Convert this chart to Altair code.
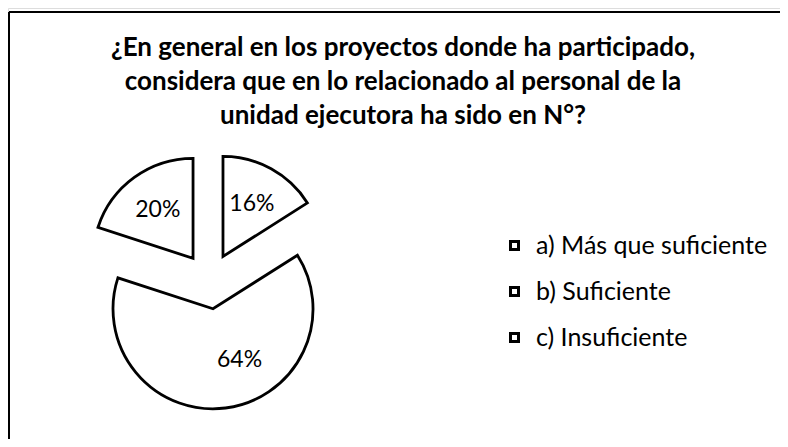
import math
import altair as alt
import pandas as pd

# ---- data ----
categories = ["a) Más que suficiente", "b) Suficiente", "c) Insuficiente"]
values = [16, 64, 20]
title_lines = [
    "¿En general en los proyectos donde ha participado,",
    "considera que en lo relacionado al personal de la",
    "unidad ejecutora ha sido en N°?",
]
caption = ["Gráfico N° 9"]

# ---- layout / style ----
W, H = 772, 431
CX, CY = 201.5, 273.0      # pie centre (chart px)
R = 100                    # pie radius
EXPLODE = 28               # slice explosion
LABEL_R = 60               # label distance from slice apex
FONT = "Lato"

pie_df = pd.DataFrame({"cat": categories, "value": values, "order": [0, 1, 2]})
title_df = pd.DataFrame({"line": title_lines, "i": list(range(len(title_lines)))})
cap_df = pd.DataFrame({"t": caption})

base = alt.Chart(pie_df).transform_window(
    cum="sum(value)", sort=[alt.SortField("order")]
).transform_joinaggregate(
    total="sum(value)"
).transform_calculate(
    t0="(datum.cum - datum.value) / datum.total * 2 * PI",
    t1="datum.cum / datum.total * 2 * PI",
).transform_calculate(
    mid="(datum.t0 + datum.t1) / 2"
).transform_calculate(
    px=f"{CX} + {EXPLODE} * sin(datum.mid)",
    py=f"{CY} - {EXPLODE} * cos(datum.mid)",
)

arcs = base.mark_arc(
    radius=R, stroke="black", strokeWidth=2.8, strokeJoin="miter"
).encode(
    theta=alt.Theta("t0:Q", scale=None),
    theta2="t1:Q",
    x=alt.X("px:Q", scale=None, axis=None),
    y=alt.Y("py:Q", scale=None, axis=None),
    fill=alt.Fill(
        "cat:N",
        scale=alt.Scale(domain=categories, range=["white", "white", "white"]),
        legend=alt.Legend(
            title=None,
            orient="none",
            legendX=494,
            legendY=225,
            symbolType="square",
            symbolSize=64,
            symbolStrokeColor="black",
            symbolStrokeWidth=3,
            labelFont=FONT,
            labelFontSize=25,
            labelColor="black",
            labelOffset=9,
            rowPadding=20,
            labelLimit=400,
        ),
    ),
)

labels = base.transform_calculate(
    lx=f"datum.px + {LABEL_R} * sin(datum.mid) + (datum.value > 50 ? 19 : 0)",
    ly=f"datum.py - {LABEL_R} * cos(datum.mid) + (datum.value > 50 ? -8 : 0)",
    lab="datum.value + '%'",
).mark_text(font=FONT, fontSize=23, color="black").encode(
    x=alt.X("lx:Q", scale=None, axis=None),
    y=alt.Y("ly:Q", scale=None, axis=None),
    text="lab:N",
)

title = alt.Chart(title_df).transform_calculate(
    ty="40 + datum.i * 34"
).mark_text(font=FONT, fontSize=26, fontWeight="bold", color="black").encode(
    x=alt.value(395),
    y=alt.Y("ty:Q", scale=None, axis=None),
    text="line:N",
)

cap = alt.Chart(cap_df).mark_text(
    font=FONT, fontSize=30, fontWeight="bold", color="black", baseline="bottom"
).encode(x=alt.value(398), y=alt.value(2), text="t:N")

frame_top = alt.Chart(cap_df).mark_rule(color="black", strokeWidth=2).encode(
    x=alt.value(1), x2=alt.value(W), y=alt.value(4)
)
frame_left = alt.Chart(cap_df).mark_rule(color="black", strokeWidth=2).encode(
    x=alt.value(1), y=alt.value(4), y2=alt.value(H)
)

chart = alt.layer(frame_top, frame_left, cap, title, arcs, labels).properties(
    width=W, height=H, padding=0, autosize=alt.AutoSizeParams(type="none")
).configure_view(stroke=None).configure(background="white")

chart.save("out.html", embed_options={"renderer": "svg", "actions": False})
